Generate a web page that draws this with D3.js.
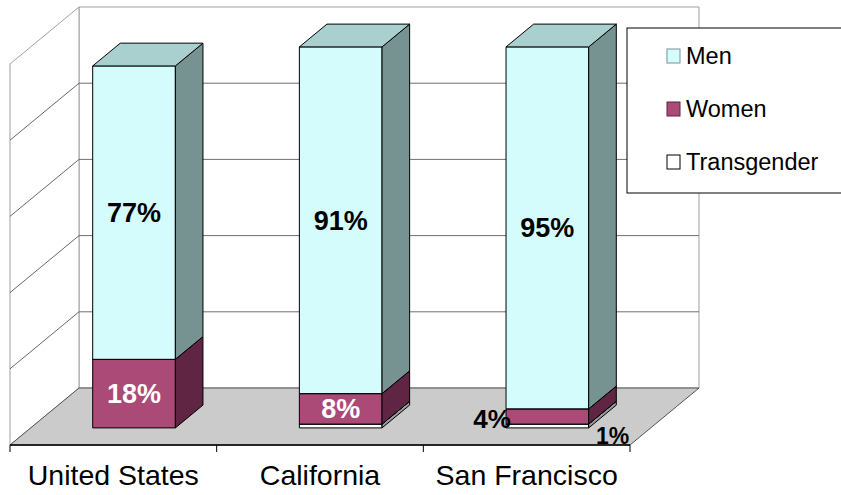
<!DOCTYPE html>
<html>
<head>
<meta charset="utf-8">
<script src="https://cdn.jsdelivr.net/npm/d3@7"></script>
<style>
  body { margin: 0; background: #fff; }
  svg { display: block; font-family: "Liberation Sans", Arial, sans-serif; }
</style>
</head>
<body>
<svg id="chart" width="841" height="495"></svg>
<script>
// data
const categories = ["United States", "California", "San Francisco"];
const men = [77, 91, 95];
const women = [18, 8, 4];
const transgender = [0, 1, 1];
const transgenderLabelShown = [false, false, true];
const seriesNames = ["Men", "Women", "Transgender"];
const gridTicks = [0, 20, 40, 60, 80, 100];

// colours: front, side, top
const colors = {
    Men: ["#d4fcfc", "#779391", "#a9cfcf"],
    Women: ["#ab4a76", "#5f2543", "#84395b"],
    Transgender: ["#ffffff", "#9a9a9a", "#dddddd"]
};

const svg = d3.select("#chart");

// 3D frame
const floorFront = 445;
const depthX = 69, depthY = 57;
const barDepth0 = 0.3, barDepth1 = 0.7;

const x = d3.scaleBand().domain(categories).range([10, 630])
    .paddingInner(0.6).paddingOuter(0.3);
const y = d3.scaleLinear().domain([0, 100]).range([0, 381]);

// project (front x, value, depth fraction) to screen
const P = (px, v, d) => [px + d * depthX, floorFront - y(v) - d * depthY];
const poly = pts => pts.map(p => p.join(",")).join(" ");

// walls
const frame = svg.append("g");
frame.append("polygon")
    .attr("points", poly([P(10, 0, 1), P(630, 0, 1), P(630, 100, 1), P(10, 100, 1)]))
    .attr("fill", "#fff").attr("stroke", "#a0a0a0");
frame.append("polygon")
    .attr("points", poly([P(10, 0, 0), P(10, 0, 1), P(10, 100, 1), P(10, 100, 0)]))
    .attr("fill", "#fff").attr("stroke", "#a0a0a0");

// gridlines on back wall and side wall
gridTicks.slice(1, -1).forEach(t => {
    frame.append("line")
        .attr("x1", P(10, t, 1)[0]).attr("y1", P(10, t, 1)[1])
        .attr("x2", P(630, t, 1)[0]).attr("y2", P(630, t, 1)[1])
        .attr("stroke", "#6f6f6f").attr("stroke-width", 1);
    frame.append("line")
        .attr("x1", P(10, t, 0)[0]).attr("y1", P(10, t, 0)[1])
        .attr("x2", P(10, t, 1)[0]).attr("y2", P(10, t, 1)[1])
        .attr("stroke", "#404040").attr("stroke-width", 0.8);
});

// floor
frame.append("polygon")
    .attr("points", poly([P(10, 0, 0), P(630, 0, 0), P(630, 0, 1), P(10, 0, 1)]))
    .attr("fill", "#cbcbcb").attr("stroke", "#555").attr("stroke-width", 1);
frame.append("line")
    .attr("x1", 10).attr("x2", 630).attr("y1", floorFront).attr("y2", floorFront)
    .attr("stroke", "#000").attr("stroke-width", 1.5);

// category ticks
const ticksX = [10, ...categories.map(c => x(c) - x.step() * x.paddingInner() / 2 + x.step()).slice(0, -1), 630];
frame.selectAll(".tick").data(ticksX).join("line")
    .attr("x1", d => d).attr("x2", d => d)
    .attr("y1", floorFront).attr("y2", floorFront + 7)
    .attr("stroke", "#000");

// stacked 3d bars
const rows = categories.map((c, i) => {
    const vals = [transgender[i], women[i], men[i]];
    const keys = ["Transgender", "Women", "Men"];
    let base = 0;
    return keys.map((k, j) => {
        const seg = { cat: c, key: k, v: vals[j], y0: base, y1: base + vals[j],
                      label: k !== "Transgender" || transgenderLabelShown[i] };
        base += vals[j];
        return seg;
    }).filter(s => s.v > 0);
});

const bars = svg.append("g");
rows.forEach(segs => {
    const g = bars.append("g");
    segs.forEach(s => {
        const x0 = x(s.cat), x1 = x(s.cat) + x.bandwidth();
        const c = colors[s.key];
        // front
        g.append("polygon")
            .attr("points", poly([P(x0, s.y0, barDepth0), P(x1, s.y0, barDepth0), P(x1, s.y1, barDepth0), P(x0, s.y1, barDepth0)]))
            .attr("fill", c[0]).attr("stroke", "#000").attr("stroke-width", 1);
        // side
        g.append("polygon")
            .attr("points", poly([P(x1, s.y0, barDepth0), P(x1, s.y0, barDepth1), P(x1, s.y1, barDepth1), P(x1, s.y1, barDepth0)]))
            .attr("fill", c[1]).attr("stroke", "#000").attr("stroke-width", 1);
        // top
        g.append("polygon")
            .attr("points", poly([P(x0, s.y1, barDepth0), P(x1, s.y1, barDepth0), P(x1, s.y1, barDepth1), P(x0, s.y1, barDepth1)]))
            .attr("fill", c[2]).attr("stroke", "#000").attr("stroke-width", 1);
    });
});

// value labels
const labels = svg.append("g")
    .attr("font-weight", "bold").attr("text-anchor", "middle");
rows.forEach(segs => {
    segs.filter(s => s.label).forEach(s => {
        const cx = x(s.cat) + x.bandwidth() / 2 + barDepth0 * depthX;
        let [lx, ly] = [cx, P(0, (s.y0 + s.y1) / 2, barDepth0)[1]];
        let fill = s.key === "Women" ? "#fff" : "#000";
        if (s.v <= 4) {
            // small slices sit beside the bar
            fill = "#000";
            lx = s.key === "Women" ? x(s.cat) + barDepth0 * depthX - 14 : x(s.cat) + x.bandwidth() + barDepth0 * depthX + 24;
            ly = s.key === "Women" ? ly + 2 : ly + 10;
        }
        labels.append("text")
            .attr("x", lx).attr("y", ly).attr("dy", "0.35em")
            .attr("fill", fill)
            .attr("font-size", s.v <= 4 ? (s.key === "Women" ? 26 : 23) : 27)
            .text(s.v + "%");
    });
});

// category labels
svg.append("g").selectAll("text").data(categories).join("text")
    .attr("x", d => x(d) + x.bandwidth() / 2)
    .attr("y", 485)
    .attr("text-anchor", "middle").attr("font-size", 28.5).attr("fill", "#000")
    .text(d => d);

// legend
const legend = svg.append("g").attr("transform", "translate(627,28)");
legend.append("rect").attr("width", 220).attr("height", 165)
    .attr("fill", "#fff").attr("stroke", "#000").attr("stroke-width", 1);
const items = legend.selectAll(".item").data(seriesNames).join("g")
    .attr("transform", (d, i) => `translate(40,${28 + i * 53})`);
items.append("rect").attr("x", 0).attr("y", -7).attr("width", 13).attr("height", 14)
    .attr("fill", d => colors[d][0]).attr("stroke", d => d === "Women" ? "#5f2543" : d === "Men" ? "#779391" : "#000");
items.append("text").attr("x", 19).attr("y", 0).attr("dy", "0.35em")
    .attr("font-size", 23.5).attr("fill", "#000").text(d => d);
</script>
</body>
</html>
